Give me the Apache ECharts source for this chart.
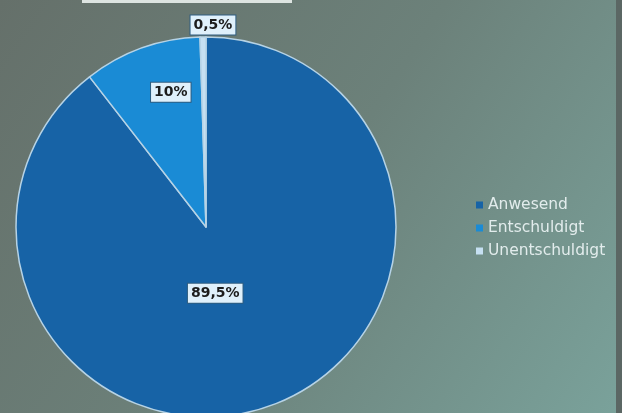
<!DOCTYPE html>
<html>
<head>
<meta charset="utf-8">
<script src="https://cdn.jsdelivr.net/npm/echarts@6/dist/echarts.min.js"></script>
<style>
  html, body { margin: 0; padding: 0; }
  #chart { width: 622px; height: 413px; }
</style>
</head>
<body>
<div id="chart"></div>
<script>
// Attendance breakdown
const categories = ['Anwesend', 'Entschuldigt', 'Unentschuldigt'];
const values = [89.5, 10, 0.5];
const valueLabels = ['89,5%', '10%', '0,5%'];

const sliceColors = ['#1763a6', '#1a8bd5', '#c6e0f2'];
// fine placement of each slice's label relative to its inside anchor
const labelOffsets = [[-22.5, -26.5], [-2, -42.5], [8.5, -104]];

const chart = echarts.init(document.getElementById('chart'));

chart.setOption({
  backgroundColor: {
    type: 'linear', x: 0, y: 0, x2: 1, y2: 1,
    colorStops: [
      { offset: 0, color: '#65706a' },
      { offset: 0.5, color: '#6c817a' },
      { offset: 1, color: '#7aa29b' }
    ]
  },
  graphic: [
    // strip of the frame edge along the top and the darker right border
    { type: 'rect', shape: { x: 82, y: 0, width: 210, height: 3 }, style: { fill: '#dde4e1' }, silent: true },
    { type: 'rect', shape: { x: 616, y: 0, width: 6, height: 413 }, style: { fill: '#5b6764' }, silent: true }
  ],
  legend: {
    orient: 'vertical',
    left: 476,
    top: 197,
    padding: 0,
    itemWidth: 7,
    itemHeight: 7,
    itemGap: 7,
    icon: 'rect',
    itemStyle: { borderWidth: 0 },
    textStyle: {
      color: '#e2ecec',
      fontFamily: 'DejaVu Sans, Verdana, sans-serif',
      fontSize: 15.5
    },
    data: categories
  },
  series: [{
    type: 'pie',
    center: [206, 227],
    radius: 190,
    startAngle: 90,
    clockwise: true,
    animation: false,
    labelLine: { show: false },
    itemStyle: { borderColor: '#b6d3e6', borderWidth: 1.5 },
    emphasis: { disabled: true },
    label: {
      show: true,
      position: 'inside',
      fontFamily: 'DejaVu Sans, Verdana, sans-serif',
      fontWeight: 'bold',
      fontSize: 14,
      color: '#1c1c1c',
      backgroundColor: '#dff0fb',
      borderColor: '#2f5d80',
      borderWidth: 1,
      padding: [3, 3, 2, 3]
    },
    data: categories.map((name, i) => ({
      name,
      value: values[i],
      itemStyle: { color: sliceColors[i] },
      label: {
        formatter: valueLabels[i],
        offset: labelOffsets[i]
      }
    }))
  }]
});
</script>
</body>
</html>
